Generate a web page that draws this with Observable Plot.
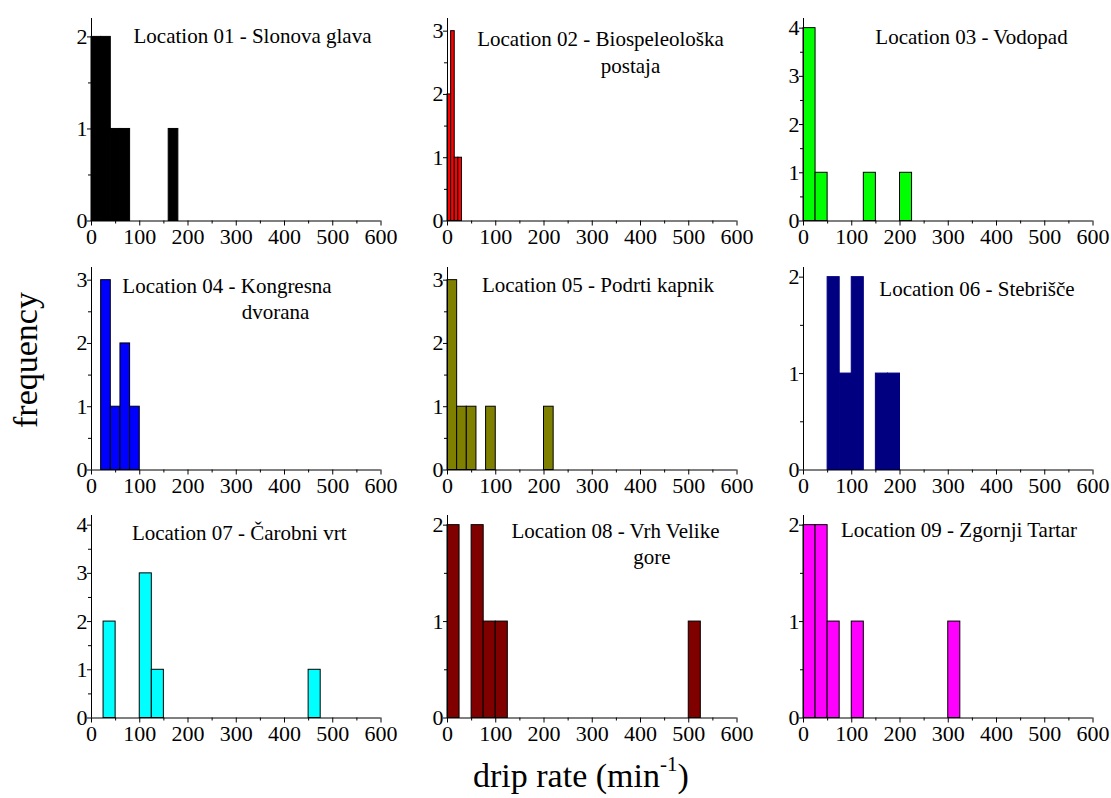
<!DOCTYPE html>
<html>
<head>
<meta charset="utf-8">
<script src="https://cdn.jsdelivr.net/npm/d3@7"></script>
<script src="https://cdn.jsdelivr.net/npm/@observablehq/plot@0.6"></script>
<style>
  html, body { margin: 0; padding: 0; background: #fff; }
  #fig { position: relative; width: 1111px; height: 798px; overflow: hidden; font-family: "Liberation Serif", "Times New Roman", serif; color: #000; }
  #fig svg { position: absolute; overflow: visible; font-family: "Liberation Serif", "Times New Roman", serif !important; }
  #fig svg text { font-family: "Liberation Serif", "Times New Roman", serif !important; }
  .ylab { position: absolute; font-size: 34px; transform: rotate(-90deg); transform-origin: center center; white-space: nowrap; }
  .xlab { position: absolute; font-size: 34px; white-space: nowrap; }
  .xlab sup { font-size: 21px; vertical-align: 0; position: relative; top: -16px; }
</style>
</head>
<body>
<div id="fig"></div>
<script>
// ---------------- data ----------------
const titleLine1 = [
  "Location 01 - Slonova glava",
  "Location 02 - Biospeleološka",
  "Location 03 - Vodopad",
  "Location 04 - Kongresna",
  "Location 05 - Podrti kapnik",
  "Location 06 - Stebrišče",
  "Location 07 - Čarobni vrt",
  "Location 08 - Vrh Velike",
  "Location 09 - Zgornji Tartar"
];
const titleLine2 = ["", "postaja", "", "dvorana", "", "", "", "gore", ""];

const binWidth = [20, 7.5, 25, 20, 20, 25, 25, 25, 25];

const binStarts01 = [0, 20, 40, 60, 160];
const counts01    = [2, 2, 1, 1, 1];
const binStarts02 = [0, 7.5, 15, 22.5];
const counts02    = [2, 3, 1, 1];
const binStarts03 = [0, 25, 125, 200];
const counts03    = [4, 1, 1, 1];
const binStarts04 = [20, 40, 60, 80];
const counts04    = [3, 1, 2, 1];
const binStarts05 = [0, 20, 40, 80, 200];
const counts05    = [3, 1, 1, 1, 1];
const binStarts06 = [50, 75, 100, 150, 175];
const counts06    = [2, 1, 2, 1, 1];
const binStarts07 = [25, 100, 125, 450];
const counts07    = [2, 3, 1, 1];
const binStarts08 = [0, 50, 75, 100, 500];
const counts08    = [2, 2, 1, 1, 1];
const binStarts09 = [0, 25, 50, 100, 300];
const counts09    = [2, 2, 1, 1, 1];

const allStarts = [binStarts01, binStarts02, binStarts03, binStarts04, binStarts05, binStarts06, binStarts07, binStarts08, binStarts09];
const allCounts = [counts01, counts02, counts03, counts04, counts05, counts06, counts07, counts08, counts09];

const yMax = [2.2, 3.2, 4.2, 3.2, 3.2, 2.1, 4.2, 2.1, 2.1];
const xTicks = [0, 100, 200, 300, 400, 500, 600];
const xMinorTicks = [50, 150, 250, 350, 450, 550];
const xDomain = [0, 600];

const fillColors   = ["#000000", "#ff0000", "#00ff00", "#0000ff", "#808000", "#000080", "#00ffff", "#800000", "#ff00ff"];
const strokeColors = ["#000000", "#000000", "#000000", "#000000", "#000000", "#000080", "#000000", "#000000", "#000000"];

const xLabel = "drip rate (min";
const xLabelSup = "-1";
const yLabel = "frequency";

// ---------------- layout ----------------
const FONT = "Liberation Serif";
const frameLeft = [91, 447, 803];
const frameTop  = [18, 267, 515];
const frameW = 289.5, frameH = 202.5;
const ML = 45, MR = 25.5, MT = 18, MB = 32;
const titleFont = 21;
const tickFont = 22;
// title centres / baselines relative to frame top-left
const titlePos = [
  {cx: 161, b: 24},
  {cx: 153, b: 27, cx2: 183, b2: 54},
  {cx: 168, b: 25},
  {cx: 135.5, b: 25.7, cx2: 184, b2: 51},
  {cx: 150.5, b: 24},
  {cx: 173.5, b: 28},
  {cx: 147.7, b: 24},
  {cx: 168, b: 22.7, cx2: 204.5, b2: 48},
  {cx: 155.5, b: 21.7}
];

const fig = document.getElementById("fig");
const intFmt = d3.format("d");

for (let i = 0; i < 9; i++) {
  const row = Math.floor(i / 3), col = i % 3;
  const bars = allStarts[i].map((s, k) => ({x1: s, x2: s + binWidth[i], n: allCounts[i][k]}));
  const yTicks = d3.range(0, Math.floor(yMax[i]) + 1);
  const yMinor = d3.range(0.5, yMax[i], 1);
  const tp = titlePos[i];
  const marks = [
    Plot.rectY(bars, {x1: "x1", x2: "x2", y: "n", fill: fillColors[i], stroke: strokeColors[i], strokeWidth: 1}),
    Plot.ruleY([0], {stroke: "#000", strokeWidth: 1}),
    Plot.ruleX([0], {stroke: "#000", strokeWidth: 1}),
    Plot.axisX(xTicks, {tickSize: 5, tickPadding: 2, fontSize: tickFont, fontFamily: FONT, tickFormat: intFmt, label: null, stroke: "#000", fill: "#000"}),
    Plot.axisX(xMinorTicks, {tickSize: 3, tickFormat: () => "", label: null, stroke: "#000"}),
    Plot.axisY(yTicks, {tickSize: 4, tickPadding: 0, fontSize: tickFont, fontFamily: FONT, tickFormat: intFmt, label: null, stroke: "#000", fill: "#000"}),
    Plot.axisY(yMinor, {tickSize: 3, tickFormat: () => "", label: null, stroke: "#000"}),
    Plot.text([titleLine1[i]], {frameAnchor: "top-left", dx: tp.cx, dy: tp.b - 0.71 * titleFont, lineAnchor: "top", textAnchor: "middle", fontSize: titleFont, fontFamily: FONT, fill: "#000"})
  ];
  if (titleLine2[i]) {
    marks.push(Plot.text([titleLine2[i]], {frameAnchor: "top-left", dx: tp.cx2, dy: tp.b2 - 0.71 * titleFont, lineAnchor: "top", textAnchor: "middle", fontSize: titleFont, fontFamily: FONT, fill: "#000"}));
  }
  const svg = Plot.plot({
    width: ML + frameW + MR,
    height: MT + frameH + MB,
    marginLeft: ML, marginRight: MR, marginTop: MT, marginBottom: MB,
    x: {domain: xDomain, axis: null},
    y: {domain: [0, yMax[i]], axis: null},
    style: {background: "transparent", overflow: "visible", color: "#000"},
    marks
  });
  svg.style.left = (frameLeft[col] - ML) + "px";
  svg.style.top = (frameTop[row] - MT) + "px";
  fig.appendChild(svg);
}

// axis titles
const yl = document.createElement("div");
yl.className = "ylab";
yl.textContent = yLabel;
fig.appendChild(yl);
const ylW = yl.offsetWidth, ylH = yl.offsetHeight;
yl.style.left = (26 - ylW / 2) + "px";
yl.style.top = (360 - ylH / 2) + "px";

const xl = document.createElement("div");
xl.className = "xlab";
xl.innerHTML = xLabel + "<sup>" + xLabelSup + "</sup>)";
fig.appendChild(xl);
xl.style.left = (581 - xl.offsetWidth / 2) + "px";
xl.style.top = (791 - 0.89 * 34 - 4) + "px";
</script>
</body>
</html>
